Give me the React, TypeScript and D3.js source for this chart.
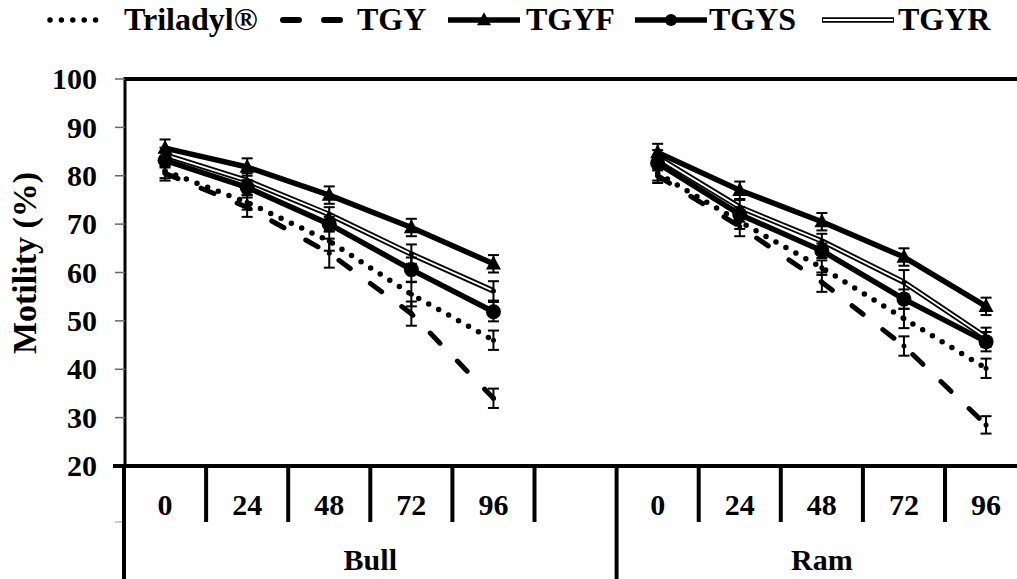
import React from 'react';
import * as d3 from 'd3';

// categories (hours) per group
const groups = ['Bull', 'Ram'];
const bullCats = ['0', '24', '48', '72', '96', ''];
const ramCats = ['0', '24', '48', '72', '96'];
const yTicks = [20, 30, 40, 50, 60, 70, 80, 90, 100];

// motility (%), Bull then Ram
const triladylBull = [81, 74.5, 66.5, 55.5, 46];
const triladylRam = [80.5, 70.5, 61, 50.5, 40.2];
const tgyBull = [80.5, 73.5, 64, 51.5, 34];
const tgyRam = [80, 69.5, 58, 44.8, 28.5];
const tgyfBull = [85.7, 81.8, 76, 69.3, 61.8];
const tgyfRam = [84.8, 77, 70.5, 63.2, 53];
const tgysBull = [83.2, 77.6, 70, 60.6, 51.9];
const tgysRam = [82.6, 72, 64.5, 54.5, 45.7];
const tgyrBull = [84.3, 79, 72, 63.8, 56.2];
const tgyrRam = [83.8, 73.5, 66.5, 58, 46.6];

// error bars (+/-)
const triladylErrBull = [1.5, 1.5, 2, 2.5, 2];
const triladylErrRam = [1.5, 1.5, 1.5, 2, 2];
const tgyErrBull = [1.5, 2, 3, 2.5, 2];
const tgyErrRam = [1.5, 2, 2, 2, 1.8];
const tgyfErrBull = [1.8, 1.8, 1.8, 1.8, 1.8];
const tgyfErrRam = [1.8, 1.8, 1.8, 1.8, 1.8];
const tgysErrBull = [1.5, 1.5, 1.5, 2.5, 2];
const tgysErrRam = [1.5, 1.5, 1.5, 2, 2];
const tgyrErrBull = [1.5, 1.5, 1.5, 2, 2];
const tgyrErrRam = [1.5, 1.5, 1.5, 2.5, 2];

type Series = {
  name: string;
  style: 'dot' | 'dash' | 'tri' | 'circ' | 'double';
  bull: number[];
  ram: number[];
  errBull: number[];
  errRam: number[];
};

const series: Series[] = [
  { name: 'Triladyl®', style: 'dot', bull: triladylBull, ram: triladylRam, errBull: triladylErrBull, errRam: triladylErrRam },
  { name: 'TGY', style: 'dash', bull: tgyBull, ram: tgyRam, errBull: tgyErrBull, errRam: tgyErrRam },
  { name: 'TGYF', style: 'tri', bull: tgyfBull, ram: tgyfRam, errBull: tgyfErrBull, errRam: tgyfErrRam },
  { name: 'TGYS', style: 'circ', bull: tgysBull, ram: tgysRam, errBull: tgysErrBull, errRam: tgysErrRam },
  { name: 'TGYR', style: 'double', bull: tgyrBull, ram: tgyrRam, errBull: tgyrErrBull, errRam: tgyrErrRam },
];

const W = 1017;
const H = 579;
const SERIF = 'Liberation Serif';

const catKeys = [...bullCats.map((c, i) => `Bull-${i}`), ...ramCats.map((c, i) => `Ram-${i}`)];
const catLabels = [...bullCats, ...ramCats];

const x = d3.scaleBand<string>().domain(catKeys).range([124, 124 + 11 * 82.1]).paddingInner(0);
const y = d3.scaleLinear().domain([20, 100]).range([466, 79]);

function strokeProps(style: Series['style']) {
  if (style === 'dot') return { stroke: '#000', strokeWidth: 5.5, strokeDasharray: '0 11.4', strokeLinecap: 'round' as const };
  if (style === 'dash') return { stroke: '#000', strokeWidth: 5, strokeDasharray: '14 25', strokeLinecap: 'round' as const };
  return { stroke: '#000', strokeWidth: 5.5, strokeLinecap: 'butt' as const };
}

function Marker({ style, cx, cy, legend }: { style: Series['style']; cx: number; cy: number; legend?: boolean }) {
  if (style === 'tri') {
    const s = legend ? 7 : 7.5;
    return <path d={`M${cx},${cy - s * 1.1}L${cx + s},${cy + s * 0.75}L${cx - s},${cy + s * 0.75}Z`} fill="#000" />;
  }
  if (style === 'circ') return <circle cx={cx} cy={cy} r={legend ? 6 : 7.5} fill="#000" />;
  if (legend) return null;
  return <circle cx={cx} cy={cy} r={2.5} fill="#000" />;
}

function SeriesLine({ s, pts }: { s: Series; pts: [number, number][] }) {
  const d = d3.line()(pts) || '';
  if (s.style === 'double') {
    return (
      <g>
        <path d={d} fill="none" stroke="#000" strokeWidth={5.5} strokeLinejoin="round" />
        <path d={d} fill="none" stroke="#fff" strokeWidth={1.8} strokeLinejoin="round" />
      </g>
    );
  }
  return <path d={d} fill="none" {...strokeProps(s.style)} strokeLinejoin="round" />;
}

const legendPos = [
  { x1: 48, x2: 105, tx: 124 },
  { x1: 280, x2: 343, tx: 357 },
  { x1: 448, x2: 520, tx: 526 },
  { x1: 635, x2: 707, tx: 709 },
  { x1: 822, x2: 894, tx: 898 },
];

function Label(props: React.SVGProps<SVGTextElement>) {
  return <text fontFamily={SERIF} fontWeight="bold" fill="#000" {...props} />;
}

export default function App() {
  const bw = x.bandwidth();
  const cx = (g: string, i: number) => (x(`${g}-${i}`) as number) + bw / 2;

  return (
    <svg width={W} height={H} style={{ position: 'absolute', left: 0, top: 0, background: '#fff' }}>
      {/* legend */}
      {series.map((s, i) => {
        const p = legendPos[i];
        const mid = (p.x1 + p.x2) / 2;
        return (
          <g key={s.name}>
            {s.style === 'double' ? (
              <g>
                <line x1={p.x1} x2={p.x2} y1={20} y2={20} stroke="#000" strokeWidth={5.5} />
                <line x1={p.x1 + 1} x2={p.x2 - 1} y1={20} y2={20} stroke="#fff" strokeWidth={1.8} />
              </g>
            ) : s.style === 'dash' ? (
              <line x1={p.x1 + 3} x2={p.x2 - 3} y1={20} y2={20} stroke="#000" strokeWidth={6} strokeLinecap="round" strokeDasharray="16 25" />
            ) : (
              <line x1={s.style === 'dot' ? p.x1 + 2 : p.x1} x2={s.style === 'dot' ? p.x2 - 2 : p.x2} y1={20} y2={20} {...strokeProps(s.style)} />
            )}
            <Marker style={s.style} cx={mid} cy={20} legend />
            <Label x={p.tx} y={30} fontSize={32}>{s.name}</Label>
          </g>
        );
      })}

      {/* plot frame */}
      <line x1={124} x2={W} y1={79} y2={79} stroke="#000" strokeWidth={4} />
      <line x1={125} x2={125} y1={77} y2={466} stroke="#000" strokeWidth={3} />
      {yTicks.map(t => (
        <g key={t}>
          <line x1={115} x2={125} y1={y(t)} y2={y(t)} stroke="#666" strokeWidth={1.5} />
          <Label x={97} y={y(t)} dy="0.34em" textAnchor="end" fontSize={30}>{t}</Label>
        </g>
      ))}
      <Label transform="translate(36,263) rotate(-90)" textAnchor="middle" fontSize={34}>Motility (%)</Label>

      {/* category axis */}
      <line x1={113} x2={W} y1={466} y2={466} stroke="#000" strokeWidth={4} />
      <line x1={115} x2={125} y1={522} y2={522} stroke="#999" strokeWidth={1} />
      {catKeys.map((k, i) => {
        const left = x(k) as number;
        const isGroupStart = i === 0 || k === 'Ram-0';
        return (
          <g key={k}>
            <line x1={left} x2={left} y1={466} y2={isGroupStart ? H : 522} stroke="#000" strokeWidth={4} />
            <Label x={left + bw / 2} y={515} textAnchor="middle" fontSize={30}>{catLabels[i]}</Label>
          </g>
        );
      })}
      {groups.map((g, gi) => {
        const cats = gi === 0 ? bullCats : ramCats;
        const a = x(`${g}-0`) as number;
        const b = (x(`${g}-${cats.length - 1}`) as number) + bw;
        return <Label key={g} x={(a + b) / 2} y={570} textAnchor="middle" fontSize={30}>{g}</Label>;
      })}

      {/* series lines */}
      {series.map(s => (
        <g key={s.name + '-lines'}>
          {groups.map(g => {
            const vals = g === 'Bull' ? s.bull : s.ram;
            const pts = vals.map((v, i) => [cx(g, i), y(v)] as [number, number]);
            return <SeriesLine key={g} s={s} pts={pts} />;
          })}
        </g>
      ))}

      {/* error bars */}
      {series.map(s => (
        <g key={s.name + '-err'} stroke="#000" strokeWidth={2}>
          {groups.map(g => {
            const vals = g === 'Bull' ? s.bull : s.ram;
            const errs = g === 'Bull' ? s.errBull : s.errRam;
            return vals.map((v, i) => {
              const px = cx(g, i);
              const y1 = y(v + errs[i]);
              const y2 = y(v - errs[i]);
              return (
                <g key={g + i}>
                  <line x1={px} x2={px} y1={y1} y2={y2} />
                  <line x1={px - 5.5} x2={px + 5.5} y1={y1} y2={y1} />
                  <line x1={px - 5.5} x2={px + 5.5} y1={y2} y2={y2} />
                </g>
              );
            });
          })}
        </g>
      ))}

      {/* markers */}
      {series.map(s => (
        <g key={s.name + '-mk'}>
          {groups.map(g => {
            const vals = g === 'Bull' ? s.bull : s.ram;
            return vals.map((v, i) => <Marker key={g + i} style={s.style} cx={cx(g, i)} cy={y(v)} />);
          })}
        </g>
      ))}
    </svg>
  );
}
